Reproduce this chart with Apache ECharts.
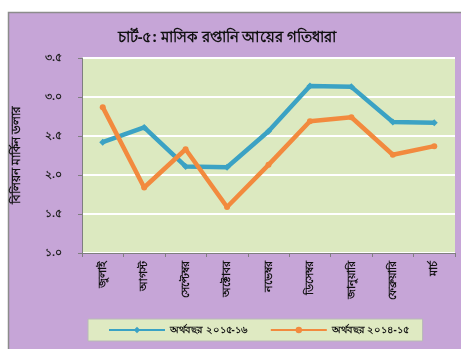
<!DOCTYPE html>
<html>
<head>
<meta charset="utf-8">
<script src="https://cdn.jsdelivr.net/npm/echarts@6/dist/echarts.min.js"></script>
<style>
  html, body { margin: 0; padding: 0; background: #ffffff; }
  #chart { width: 461px; height: 349px; }
</style>
</head>
<body>
<div id="chart"></div>
<script>
// Months of the fiscal year (July to March)
const months = ['জুলাই', 'আগস্ট', 'সেপ্টেম্বর', 'অক্টোবর', 'নভেম্বর', 'ডিসেম্বর', 'জানুয়ারি', 'ফেব্রুয়ারি', 'মার্চ'];
// Monthly export earnings, billion US dollars
const fy2015_16 = [2.42, 2.61, 2.11, 2.10, 2.56, 3.14, 3.13, 2.68, 2.67];
const fy2014_15 = [2.87, 1.84, 2.33, 1.59, 2.13, 2.69, 2.74, 2.26, 2.37];
// Value axis tick labels, bottom to top (1.0 … 3.5)
const yTickLabels = ['১.০', '১.৫', '২.০', '২.৫', '৩.০', '৩.৫'];
const seriesNames = ['অর্থবছর ২০১৫-১৬', 'অর্থবছর ২০১৪-১৫'];

const FONT = '"Noto Sans", "DejaVu Sans", sans-serif';
const chart = echarts.init(document.getElementById('chart'));

chart.setOption({
  backgroundColor: '#ffffff',
  animation: false,
  textStyle: { fontFamily: FONT },
  graphic: [
    {
      type: 'rect', z: -10, silent: true,
      shape: { x: 8.5, y: 12.5, width: 460, height: 345 },
      style: { fill: '#c6a5d7', stroke: '#8c8c8c', lineWidth: 1.5 }
    },
    {
      type: 'text', silent: true,
      x: 17, y: 155, rotation: Math.PI / 2,
      style: {
        text: 'বিলিয়ন মার্কিন ডলার', font: 'bold 12px ' + FONT, fill: '#111',
        align: 'center', verticalAlign: 'middle'
      }
    }
  ],
  title: {
    text: 'চার্ট-৫: মাসিক রপ্তানি আয়ের গতিধারা',
    left: 222, top: 25, textAlign: 'center',
    textStyle: { fontFamily: FONT, fontSize: 15, fontWeight: 'bold', color: '#111' }
  },
  grid: {
    left: 82, right: 6, top: 58, bottom: 96,
    show: true, backgroundColor: '#dce9c0', borderWidth: 0
  },
  legend: {
    bottom: 8, left: 88,
    backgroundColor: '#dfeac2', borderColor: '#b8b8b8', borderWidth: 1,
    padding: [6, 14, 6, 20],
    itemGap: 22, itemWidth: 56, itemHeight: 8,
    textStyle: { fontFamily: FONT, fontSize: 10, fontWeight: 'bold', color: '#111' },
    data: seriesNames
  },
  xAxis: {
    type: 'category', data: months, boundaryGap: true,
    axisLine: { lineStyle: { color: '#7f7f7f', width: 1 } },
    axisTick: { show: true, alignWithLabel: false, length: 4, lineStyle: { color: '#7f7f7f' } },
    axisLabel: { rotate: 90, interval: 0, fontSize: 11, fontWeight: 'bold', color: '#111', margin: 8, fontFamily: FONT }
  },
  yAxis: {
    type: 'value', min: 1, max: 3.5, interval: 0.5,
    axisLine: { show: true, lineStyle: { color: '#7f7f7f', width: 1 } },
    axisTick: { show: true, length: 4, lineStyle: { color: '#7f7f7f' } },
    splitLine: { lineStyle: { color: '#ffffff', width: 2 } },
    axisLabel: {
      fontSize: 11, fontWeight: 'bold', color: '#222', margin: 20, fontFamily: FONT,
      formatter: v => yTickLabels[Math.round((v - 1) / 0.5)]
    }
  },
  series: [
    {
      name: seriesNames[0], type: 'line', data: fy2015_16,
      symbol: 'diamond', symbolSize: 7,
      lineStyle: { color: '#3ba2c4', width: 4.5 },
      itemStyle: { color: '#3ba2c4' }
    },
    {
      name: seriesNames[1], type: 'line', data: fy2014_15,
      symbol: 'circle', symbolSize: 6,
      lineStyle: { color: '#f28a3e', width: 4.5 },
      itemStyle: { color: '#f28a3e' }
    }
  ]
});
</script>
</body>
</html>
